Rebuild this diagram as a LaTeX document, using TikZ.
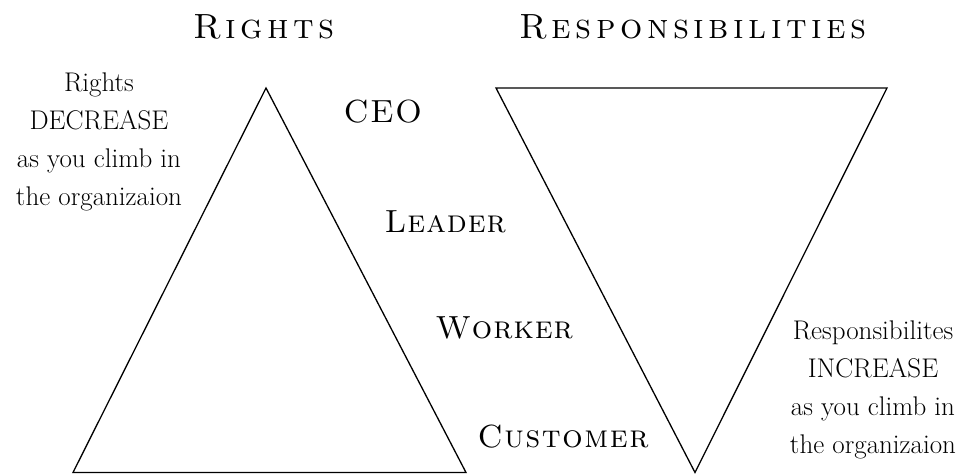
\documentclass[tikz,border=0pt]{standalone}
\usepackage{fontspec}
\usetikzlibrary{positioning}
\makeatletter
% put a kern between the letters of a word
\newcommand\lspread[2]{\def\lsp@gap{}\@tfor\lsp@c:=#2\do{\lsp@gap\lsp@c\def\lsp@gap{\kern#1}}}
\makeatother

\begin{document}
\begin{tikzpicture}[x=1pt,y=1pt,line width=1.3pt,
  head/.style={font=\fontsize{35}{40}\selectfont\scshape,inner sep=0,anchor=base},
  rank/.style={font=\fontsize{32}{36}\selectfont\scshape,inner sep=0,anchor=base west},
  note/.style={font=\fontsize{27}{38}\selectfont,align=center,inner sep=0,anchor=north}]

 \useasboundingbox (0,0) rectangle (965,474);

 % corners of the two triangles
 \coordinate (rtop) at (266,386);
 \coordinate (rleft) at (73,1.5);
 \coordinate (rright) at (466,1.5);
 \coordinate (sleft) at (496,386);
 \coordinate (sright) at (887,386);
 \coordinate (sbot) at (695,1.5);

 \draw (rtop) -- (rright) -- (rleft) -- cycle;
 \draw (sleft) -- (sright) -- (sbot) -- cycle;

 % headings
 \node[head] (rights) at (264,435) {\lspread{.13em}{Rights}};
 \node[head] (resp) at (693,435) {\lspread{.13em}{Responsibilities}};

 % levels of the organization
 \node[rank] (ceo) at (343,351) {\lspread{.04em}{CEO}};
 \node[rank] (leader) at (384,241) {\lspread{.03em}{Leader}};
 \node[rank] (worker) at (435,136) {\lspread{.03em}{Worker}};
 \node[rank] (customer) at (477,27) {\lspread{.05em}{Customer}};

 % side notes
 \node[note] (rnote) at (99,402) {Rights\\DECREASE\\as you climb in\\the organizaion};
 \node[note] (snote) at (873,154) {Responsibilites\\INCREASE\\as you climb in\\the organizaion};

\end{tikzpicture}
\end{document}
